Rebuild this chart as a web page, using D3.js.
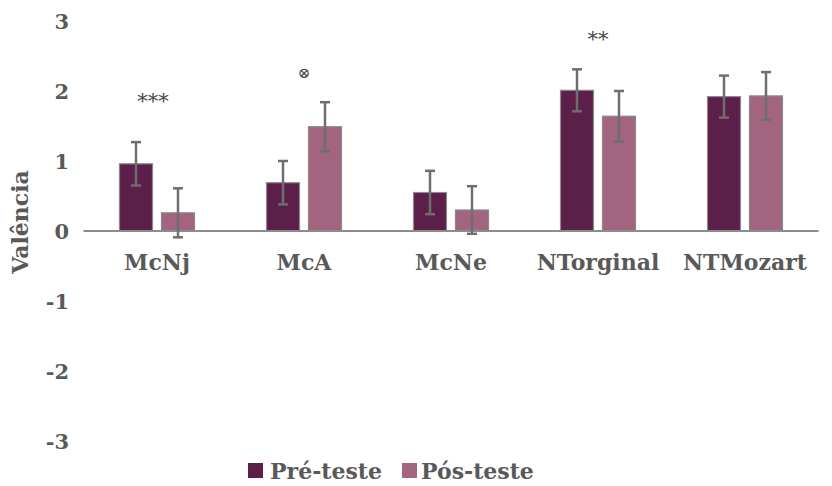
<!DOCTYPE html>
<html>
<head>
<meta charset="utf-8">
<script src="https://cdn.jsdelivr.net/npm/d3@7"></script>
<style>
  body { margin: 0; background: #fff; }
  svg text { font-family: "DejaVu Serif", "Liberation Serif", serif; font-weight: bold; fill: #595959; }
</style>
</head>
<body>
<div id="chart"></div>
<script>
// data
var categories = ["McNj", "McA", "McNe", "NTorginal", "NTMozart"];
var series = ["Pré-teste", "Pós-teste"];
var preValues = [0.96, 0.69, 0.55, 2.01, 1.92];
var postValues = [0.26, 1.49, 0.30, 1.64, 1.93];
var preErrors = [0.31, 0.31, 0.31, 0.30, 0.30];
var postErrors = [0.35, 0.35, 0.34, 0.36, 0.34];
var marks = ["***", "⊗", "", "**", ""];
var yTicks = [-3, -2, -1, 0, 1, 2, 3];

var colors = ["#5c1f4a", "#a2647f"];

var W = 832, H = 486;
var svg = d3.select("#chart").append("svg")
    .attr("width", W)
    .attr("height", H);

var x = d3.scaleBand()
    .domain(categories)
    .range([83.5, 818.5]);

var y = d3.scaleLinear()
    .domain([-3, 3])
    .range([441, 21]);

var barW = 33, innerGap = 9;

// y tick labels (no axis line)
svg.append("g").selectAll("text")
    .data(yTicks)
    .enter()
    .append("text")
    .attr("x", 69)
    .attr("y", function (d) { return y(d); })
    .attr("dy", "0.36em")
    .attr("text-anchor", "end")
    .style("font-size", "21px")
    .text(function (d) { return d; });

// y title
svg.append("text")
    .attr("transform", "translate(28," + 222 + ") rotate(-90)")
    .attr("text-anchor", "middle")
    .style("font-size", "22px")
    .text("Valência");

var rows = categories.map(function (c, i) {
    return [
        { cat: c, s: 0, v: preValues[i], e: preErrors[i] },
        { cat: c, s: 1, v: postValues[i], e: postErrors[i] }
    ];
});
var flat = [].concat.apply([], rows);

function barX(d) {
    var c = x(d.cat) + x.bandwidth() / 2;
    return d.s === 0 ? c - innerGap / 2 - barW : c + innerGap / 2;
}

svg.append("g").selectAll("rect")
    .data(flat)
    .enter()
    .append("rect")
    .attr("x", barX)
    .attr("y", function (d) { return y(Math.max(0, d.v)); })
    .attr("width", barW)
    .attr("height", function (d) { return Math.abs(y(d.v) - y(0)); })
    .style("fill", function (d) { return colors[d.s]; })
    .style("stroke", "#8a8a8a")
    .style("stroke-width", 1.2);

// zero line
svg.append("line")
    .attr("x1", x.range()[0])
    .attr("x2", x.range()[1])
    .attr("y1", y(0))
    .attr("y2", y(0))
    .style("stroke", "#8c8c8c")
    .style("stroke-width", 2);

// error bars
var eb = svg.append("g").selectAll("g")
    .data(flat)
    .enter()
    .append("g")
    .attr("transform", function (d) { return "translate(" + (barX(d) + barW / 2) + ",0)"; })
    .style("stroke", "#6e6e6e")
    .style("stroke-width", 2.5);
eb.append("line")
    .attr("y1", function (d) { return y(d.v + d.e); })
    .attr("y2", function (d) { return y(d.v - d.e); });
eb.append("line")
    .attr("x1", -5).attr("x2", 5)
    .attr("y1", function (d) { return y(d.v + d.e); })
    .attr("y2", function (d) { return y(d.v + d.e); });
eb.append("line")
    .attr("x1", -5).attr("x2", 5)
    .attr("y1", function (d) { return y(d.v - d.e); })
    .attr("y2", function (d) { return y(d.v - d.e); });

// category labels
svg.append("g").selectAll("text")
    .data(categories)
    .enter()
    .append("text")
    .attr("x", function (d) { return x(d) + x.bandwidth() / 2; })
    .attr("y", 270)
    .attr("text-anchor", "middle")
    .style("font-size", "22px")
    .text(function (d) { return d; });

// significance marks
var markY = [108, 78, 0, 46, 0];
svg.append("g").selectAll("text")
    .data(marks)
    .enter()
    .append("text")
    .attr("x", function (d, i) { return x(categories[i]) + x.bandwidth() / 2 + (i === 0 ? -4 : 0); })
    .attr("y", function (d, i) { return markY[i]; })
    .attr("text-anchor", "middle")
    .style("font-size", function (d) { return d === "⊗" ? "15px" : "21px"; })
    .style("font-weight", "normal")
    .style("fill", "#4a4a4a")
    .text(function (d) { return d; });

// legend
var legendX = [248, 402];
var legendTextDx = [22, 19];
var lg = svg.append("g").selectAll("g")
    .data(series)
    .enter()
    .append("g")
    .attr("transform", function (d, i) { return "translate(" + legendX[i] + ",463)"; });
lg.append("rect")
    .attr("width", 15)
    .attr("height", 15)
    .style("fill", function (d, i) { return colors[i]; });
lg.append("text")
    .attr("x", function (d, i) { return legendTextDx[i]; })
    .attr("y", 16)
    .style("font-size", "22px")
    .text(function (d) { return d; });
</script>
</body>
</html>
